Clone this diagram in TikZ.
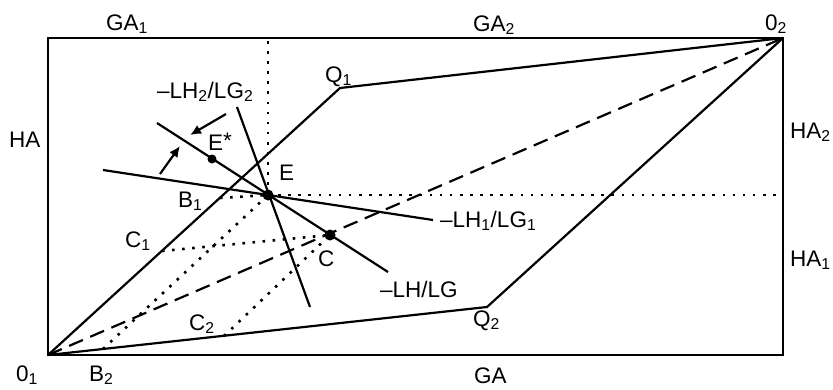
\documentclass[tikz,border=0pt]{standalone}
\usepackage{fontspec}
\setmainfont{Liberation Sans}
\usepackage{tikz}
\usetikzlibrary{arrows.meta,calc}
\newcommand{\subt}[1]{\textsubscript{#1}}

\begin{document}
\begin{tikzpicture}[x=1pt,y=-1pt,
   lbl/.style={anchor=base west,inner sep=0pt,font=\fontsize{22.5}{26}\selectfont},
   frame/.style={line width=1.4pt},
   curve/.style={line width=2.2pt},
   guide/.style={line width=2.6pt,dash pattern=on 2.6pt off 7.5pt},
   diag/.style={line width=2.2pt,dash pattern=on 15pt off 8pt},
   pt/.style={circle,fill=black,inner sep=0pt,minimum size=#1},
   turnarrow/.style={line width=2.2pt,-{Latex[length=11pt,width=10pt]}}]
  \useasboundingbox (0,0) rectangle (833,389);
  % corners of the box and contract curves
  \coordinate (O1) at (48,355);
  \coordinate (O2) at (783,38);
  \coordinate (TL) at (48,38);
  \coordinate (BR) at (783,355);
  \coordinate (Q1) at (340,88);
  \coordinate (Q2) at (487,307);
  \draw[frame] (O1) -- (TL) -- (O2) -- (BR) -- cycle;
  \draw[curve] (O1) -- (Q1) -- (O2);
  \draw[curve] (O1) -- (Q2) -- (O2);
  \draw[diag] (O1) -- (O2);
  % points on the diagram
  \node[pt=11pt] (E) at (268,195) {};
  \node[pt=9pt] (Es) at (212,159) {};
  \node[pt=11pt] (C) at (330,235) {};
  \coordinate (B1) at (220,198);
  \coordinate (C1) at (162,251);
  \coordinate (B2) at (103,349);
  \coordinate (C2) at (224,336);
  \coordinate (Etop) at (268,38);
  \coordinate (Eright) at (783,195);
  % price lines
  \coordinate (lhA) at (157,123);   \coordinate (lhB) at (388,272);
  \coordinate (lh1A) at (103,170);  \coordinate (lh1B) at (433,220);
  \coordinate (lh2A) at (237,107);  \coordinate (lh2B) at (310,307);
  \draw[curve] (lhA) -- (lhB);
  \draw[curve] (lh1A) -- (lh1B);
  \draw[curve] (lh2A) -- (lh2B);
  % dotted guides
  \draw[guide] (E.center) -- (Etop);
  \draw[guide] (E.center) -- (Eright);
  \draw[guide] (B1) -- (E.center);
  \draw[guide] (B2) -- (E.center);
  \draw[guide] (C1) -- (C.center);
  \draw[guide] (C2) -- (C.center);
  % rotation arrows
  \coordinate (arA) at (226,114); \coordinate (arAend) at (190,135);
  \coordinate (arB) at (160,174); \coordinate (arBend) at (180,146);
  \draw[turnarrow] (arA) -- (arAend);
  \draw[turnarrow] (arB) -- (arBend);
  % labels
  \node[lbl] (lGA1) at (106,30) {GA\subt{1}};
  \node[lbl] (lGA2) at (473,31) {GA\subt{2}};
  \node[lbl] (lO2) at (765,30) {0\subt{2}};
  \node[lbl] (lHA) at (9,147) {HA};
  \node[lbl] (lHA2) at (790,138) {HA\subt{2}};
  \node[lbl] (lHA1) at (790,266) {HA\subt{1}};
  \node[lbl] (lGA) at (474,383) {GA};
  \node[lbl] (lO1) at (16,381) {0\subt{1}};
  \node[lbl] (lB2) at (89,381) {B\subt{2}};
  \node[lbl] (lQ1) at (325,82) {Q\subt{1}};
  \node[lbl] (lQ2) at (473,326) {Q\subt{2}};
  \node[lbl] (lB1) at (178,207) {B\subt{1}};
  \node[lbl] (lC1) at (125,247) {C\subt{1}};
  \node[lbl] (lC2) at (189,330) {C\subt{2}};
  \node[lbl] (lC) at (318,266) {C};
  \node[lbl] (lE) at (279,180) {E};
  \node[lbl] (lEs) at (208,150) {E\raisebox{2pt}{*}};
  \node[lbl] (lLH2) at (157,98) {\textendash LH\subt{2}/LG\subt{2}};
  \node[lbl] (lLH1) at (440,227) {\textendash LH\subt{1}/LG\subt{1}};
  \node[lbl] (lLH) at (380,297) {\textendash LH/LG};
\end{tikzpicture}
\end{document}
